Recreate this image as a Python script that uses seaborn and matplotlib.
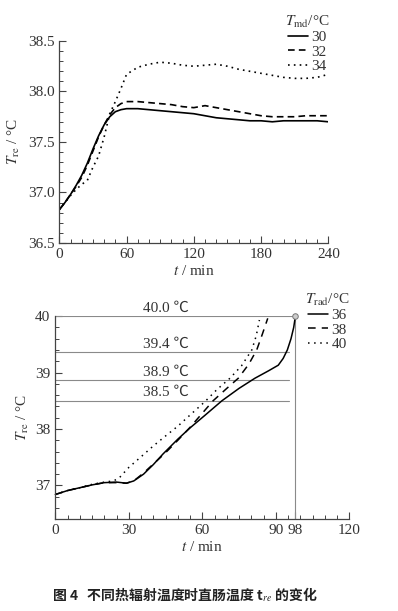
import matplotlib
matplotlib.use("Agg")
import matplotlib.pyplot as plt
import seaborn as sns
from matplotlib.ticker import MultipleLocator, FixedLocator, FormatStrFormatter

# top panel: T_re over 240 min for T_md = 30/32/34
t_top = [0, 5, 10, 15, 20, 25, 30, 35, 40, 45, 50, 55, 60, 70, 80, 90, 100, 110,
         120, 130, 140, 150, 160, 170, 180, 190, 200, 210, 220, 230, 240]
tre_30 = [36.83, 36.90, 36.98, 37.07, 37.17, 37.29, 37.43, 37.56, 37.67, 37.75, 37.80, 37.82, 37.83,
          37.83, 37.82, 37.81, 37.80, 37.79, 37.78, 37.76, 37.74, 37.73, 37.72, 37.71, 37.71,
          37.70, 37.71, 37.71, 37.71, 37.71, 37.70]
tre_32 = [36.83, 36.90, 36.98, 37.06, 37.15, 37.27, 37.41, 37.55, 37.67, 37.77, 37.84, 37.88, 37.90,
          37.90, 37.89, 37.88, 37.87, 37.85, 37.84, 37.86, 37.84, 37.82, 37.80, 37.78, 37.76,
          37.75, 37.75, 37.75, 37.76, 37.76, 37.76]
tre_34 = [36.83, 36.90, 36.97, 37.03, 37.08, 37.12, 37.25, 37.36, 37.55, 37.78, 37.90, 38.03, 38.17,
          38.24, 38.27, 38.29, 38.28, 38.26, 38.25, 38.26, 38.27, 38.25, 38.22, 38.20, 38.18,
          38.16, 38.14, 38.13, 38.13, 38.14, 38.17]
top_labels = ["30", "32", "34"]

# bottom panel: T_rad = 36/38/40, run until 40 C
t_36 = [0, 5, 10, 15, 20, 25, 29, 32, 36, 40, 44, 50, 55, 61, 68, 75, 81.5, 87, 91, 93, 94.7, 96.2, 97.3, 98]
v_36 = [36.84, 36.91, 36.96, 37.01, 37.05, 37.06, 37.04, 37.08, 37.20, 37.37, 37.56, 37.82, 38.02, 38.24,
        38.50, 38.72, 38.90, 39.03, 39.13, 39.25, 39.40, 39.60, 39.80, 40.00]
t_38 = [0, 5, 10, 15, 20, 25, 29, 32, 36, 40, 45, 50, 55, 61, 64.4, 70, 74.7, 79, 82.2, 84.5, 86.7]
v_38 = [36.84, 36.91, 36.96, 37.01, 37.05, 37.05, 37.04, 37.08, 37.22, 37.38, 37.58, 37.80, 38.03, 38.33,
        38.50, 38.72, 38.90, 39.15, 39.40, 39.68, 39.96]
t_40 = [0, 5, 10, 15, 20, 23.7, 26, 30, 35.3, 40, 44.8, 50, 54.3, 61.2, 66, 71.3, 76, 80.2, 82, 83.3]
v_40 = [36.84, 36.91, 36.96, 37.02, 37.06, 37.08, 37.13, 37.32, 37.52, 37.70, 37.87, 38.05, 38.22, 38.49,
        38.70, 38.90, 39.12, 39.40, 39.65, 39.93]
bottom_labels = ["36", "38", "40"]

# threshold lines
thr_values = [40.0, 39.36, 38.86, 38.5]
thr_labels = ["40.0 ℃", "39.4 ℃", "38.9 ℃", "38.5 ℃"]
thr_ends = [98, 95.5, 95.5, 95.5]
end_time = 98

sns.set_theme(style="ticks")
plt.rcParams["font.family"] = ["Liberation Serif", "Noto Sans CJK SC"]
plt.rcParams["mathtext.fontset"] = "stix"
plt.rcParams["axes.unicode_minus"] = False

fig = plt.figure(figsize=(3.98, 6.11), dpi=100)
ax1 = fig.add_axes([0.149, 0.6023, 0.676, 0.3306])
ax2 = fig.add_axes([0.139, 0.150, 0.7387, 0.3327])

tc = "#333333"
for ax in (ax1, ax2):
    for s in ("top", "right"):
        ax.spines[s].set_visible(False)
    for s in ("left", "bottom"):
        ax.spines[s].set_color("#444444")
        ax.spines[s].set_linewidth(0.9)
    ax.tick_params(which="both", direction="in", colors="#444444", labelcolor=tc, labelsize=11)
    ax.tick_params(which="major", length=5, width=0.8)
    ax.tick_params(which="minor", length=3, width=0.7)
    ax.set_facecolor("white")

# top
styles_top = ["-", (0, (4, 2.5)), (0, (1, 2.5))]
for vals, lab, ls in zip([tre_30, tre_32, tre_34], top_labels, styles_top):
    sns.lineplot(x=t_top, y=vals, ax=ax1, color="black", lw=1.2, linestyle=ls, label=lab)
ax1.set_xlim(0, 240)
ax1.set_ylim(36.5, 38.5)
ax1.xaxis.set_major_locator(MultipleLocator(60))
ax1.xaxis.set_minor_locator(MultipleLocator(10))
ax1.yaxis.set_major_locator(MultipleLocator(0.5))
ax1.yaxis.set_minor_locator(MultipleLocator(0.1))
ax1.yaxis.set_major_formatter(FormatStrFormatter("%.1f"))
ax1.set_xlabel(r"$t$ / min", fontsize=11, color=tc, labelpad=2)
ax1.set_ylabel(r"$T_{\rm re}$ / °C", fontsize=11, color=tc, labelpad=4)
leg1 = ax1.legend(title=r"$T_{\rm md}$/°C", frameon=False, loc="upper left",
                  bbox_to_anchor=(0.69, 0.995), bbox_transform=fig.transFigure,
                  fontsize=11, title_fontsize=11, handlelength=1.3, handletextpad=0.2,
                  labelspacing=0.05, borderpad=0.2)
for txt in leg1.get_texts():
    txt.set_color(tc)
leg1.get_title().set_color(tc)

# bottom
for v, lab, te in zip(thr_values, thr_labels, thr_ends):
    ax2.plot([0, te], [v, v], color="#8a8a8a", lw=0.8, zorder=1)
    ax2.text(45, v + 0.03, lab, ha="center", va="bottom", fontsize=11, color=tc)
ax2.plot([end_time, end_time], [36.4, 40.0], color="#8a8a8a", lw=0.8, zorder=1)

styles_bot = ["-", (0, (5, 4)), (0, (1, 3))]
for tt, vv, lab, ls in zip([t_36, t_38, t_40], [v_36, v_38, v_40], bottom_labels, styles_bot):
    sns.lineplot(x=tt, y=vv, ax=ax2, color="black", lw=1.1, linestyle=ls, label=lab, clip_on=False)
ax2.plot([t_36[-1]], [v_36[-1]], marker="o", ms=4, mfc="#cccccc", mec="#777777", mew=0.7, clip_on=False)
ax2.set_xlim(0, 120)
ax2.set_ylim(36.4, 40)
ax2.xaxis.set_major_locator(FixedLocator([0, 30, 60, 90, 98, 120]))
ax2.xaxis.set_minor_locator(MultipleLocator(5))
ax2.yaxis.set_major_locator(MultipleLocator(1))
ax2.yaxis.set_minor_locator(MultipleLocator(0.2))
ax2.set_xlabel(r"$t$ / min", fontsize=11, color=tc, labelpad=2)
ax2.set_ylabel(r"$T_{\rm re}$ / °C", fontsize=11, color=tc, labelpad=3)
leg2 = ax2.legend(title=r"$T_{\rm rad}$/°C", frameon=False, loc="upper left",
                  bbox_to_anchor=(0.74, 0.54), bbox_transform=fig.transFigure,
                  fontsize=11, title_fontsize=11, handlelength=1.3, handletextpad=0.2,
                  labelspacing=0.05, borderpad=0.2)
for txt in leg2.get_texts():
    txt.set_color(tc)
leg2.get_title().set_color(tc)

fig.text(0.465, 0.026, "图 4   不同热辐射温度时直肠温度 t$_{re}$ 的变化",
         ha="center", va="center", fontsize=10, fontweight="bold", color="#222222",
         family=["Noto Sans CJK SC", "DejaVu Sans"])

fig.savefig("out.png", dpi=100, facecolor="white")
